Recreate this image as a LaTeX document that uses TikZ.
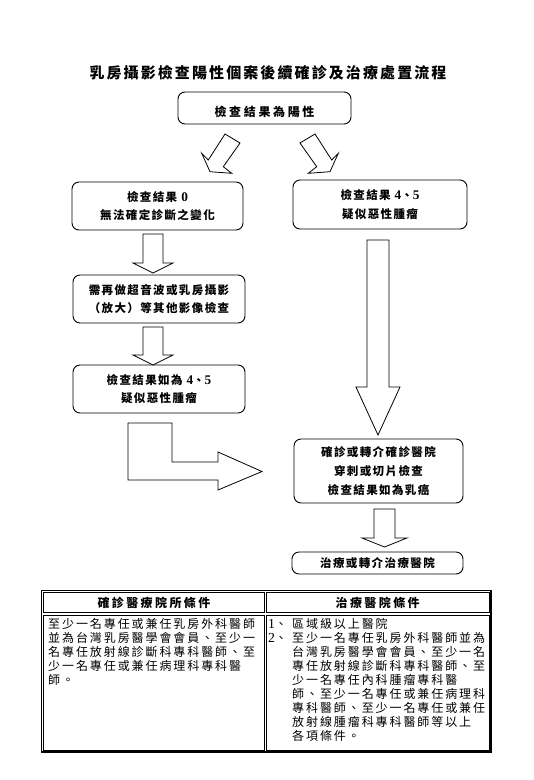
\documentclass[tikz,border=0pt]{standalone}
\usepackage{fontspec}
\newfontfamily\fttitle{Noto Sans CJK TC}[LetterSpace=14]
\newfontfamily\fttop{Noto Sans CJK TC}[LetterSpace=22]
\newfontfamily\ftbox{Noto Sans CJK TC}[LetterSpace=12]
\newfontfamily\fthead{Noto Sans CJK TC}[LetterSpace=20]
\newfontfamily\fttab{Noto Sans CJK TC}[LetterSpace=16]
\newfontfamily\dig{Liberation Serif}[Scale=1.15]
\begin{document}
\begin{tikzpicture}[x=1pt,y=-1pt,
  rbox/.style={draw, rounded corners=7pt, line width=0.9pt, fill=white, inner sep=0pt, align=center,
    font=\ftbox\bfseries\fontsize{11.5}{18.8}\selectfont},
  barrow/.style={draw, line width=0.8pt, fill=white, line join=miter},
  cell/.style={draw, line width=0.9pt, inner sep=0pt, font=\fthead\bfseries\fontsize{12}{12}\selectfont},
  tabtext/.style={anchor=west, inner sep=0pt, font=\fttab\fontsize{12}{14}\selectfont}]
\useasboundingbox[fill=white] (0,0) rectangle (534,780);

% title
\node[inner sep=0pt, font=\fttitle\bfseries\fontsize{15}{15}\selectfont] (title) at (268,73)
  {乳房攝影檢查陽性個案後續確診及治療處置流程};

% boxes
\node[rbox, minimum width=173pt, minimum height=32pt,
  label={[font=\fttop\bfseries\fontsize{12}{12}\selectfont, yshift=-3.5pt]center:檢查結果為陽性}] (top) at (264.5,108) {};
\node[rbox, minimum width=171pt, minimum height=48pt] (b1) at (157.5,206)
  {檢查結果 {\dig 0}\\無法確定診斷之變化};
\node[rbox, minimum width=174pt, minimum height=49pt] (b2) at (380,204.5)
  {檢查結果 {\dig 4}、{\dig 5}\\疑似惡性腫瘤};
\node[rbox, minimum width=172pt, minimum height=48pt] (b3) at (159,299)
  {需再做超音波或乳房攝影\\（放大）等其他影像檢查};
\node[rbox, minimum width=172pt, minimum height=48pt] (b4) at (159,389)
  {檢查結果如為 {\dig 4}、{\dig 5}\\疑似惡性腫瘤};
\node[rbox, minimum width=169pt, minimum height=64pt] (b5) at (378.5,471)
  {確診或轉介確診醫院\\穿刺或切片檢查\\檢查結果如為乳癌};
\node[rbox, minimum width=171pt, minimum height=22pt] (b6) at (377.5,563)
  {治療或轉介治療醫院};

% diagonal block arrows
\draw[barrow] (225,134) -- (208.3,160) -- (201.7,153.3) -- (210,171.7) -- (231.7,173.3) -- (223.3,166.7) -- (240,143) -- cycle;
\draw[barrow] (315,134) -- (331.7,160) -- (338.3,153.3) -- (330,171.7) -- (308.3,173.3) -- (316.7,166.7) -- (300,143) -- cycle;

% vertical block arrows (left column)
\draw[barrow] (143,234) -- (163,234) -- (163,263) -- (173,263) -- (153,273) -- (133,263) -- (143,263) -- cycle;
\draw[barrow] (143,327) -- (163,327) -- (163,355) -- (173,355) -- (153,365) -- (133,355) -- (143,355) -- cycle;

% long arrow (right column)
\draw[barrow] (367,240) -- (389,240) -- (389,387) -- (400,387) -- (378,435) -- (356,387) -- (367,387) -- cycle;

% arrow to treatment box
\draw[barrow] (374,509) -- (395,509) -- (395,538) -- (407,538) -- (384.5,547) -- (362,538) -- (374,538) -- cycle;

% bent arrow
\draw[barrow] (128,423) -- (172,423) -- (172,462) -- (218,462) -- (218,452) -- (262,471.5) -- (218,490) -- (218,480) -- (128,480) -- cycle;

% table
\node[draw, line width=1.5pt, inner sep=0pt, minimum width=449.5pt, minimum height=161.3pt] (tbl) at (266.25,671.35) {};
\node[cell, minimum width=220.8pt, minimum height=19.9pt] (hl) at (153.9,602.75) {確診醫療院所條件};
\node[cell, minimum width=222.7pt, minimum height=19.9pt] (hr) at (377.65,602.75) {治療醫院條件};
\node[cell, minimum width=220.8pt, minimum height=135pt] (bl) at (153.9,682.5) {};
\node[cell, minimum width=222.7pt, minimum height=135pt] (br) at (377.65,682.5) {};

\node[tabtext] (l1) at (48,624.3) {至少一名專任或兼任乳房外科醫師};
\node[tabtext] (l2) at (48,638.2) {並為台灣乳房醫學會會員、至少一};
\node[tabtext] (l3) at (48,652.1) {名專任放射線診斷科專科醫師、至};
\node[tabtext] (l4) at (48,666.0) {少一名專任或兼任病理科專科醫};
\node[tabtext] (l5) at (48,679.9) {師。};

\node[tabtext] (n1) at (268,624.3) {{\dig 1}、};
\node[tabtext] (r1) at (292,624.3) {區域級以上醫院};
\node[tabtext] (n2) at (268,638.2) {{\dig 2}、};
\node[tabtext] (r2) at (292,638.2) {至少一名專任乳房外科醫師並為};
\node[tabtext] (r3) at (292,652.1) {台灣乳房醫學會會員、至少一名};
\node[tabtext] (r4) at (292,666.0) {專任放射線診斷科專科醫師、至};
\node[tabtext] (r5) at (292,679.9) {少一名專任內科腫瘤專科醫};
\node[tabtext] (r6) at (292,693.8) {師、至少一名專任或兼任病理科};
\node[tabtext] (r7) at (292,707.7) {專科醫師、至少一名專任或兼任};
\node[tabtext] (r8) at (292,721.6) {放射線腫瘤科專科醫師等以上};
\node[tabtext] (r9) at (292,735.5) {各項條件。};
\end{tikzpicture}
\end{document}
